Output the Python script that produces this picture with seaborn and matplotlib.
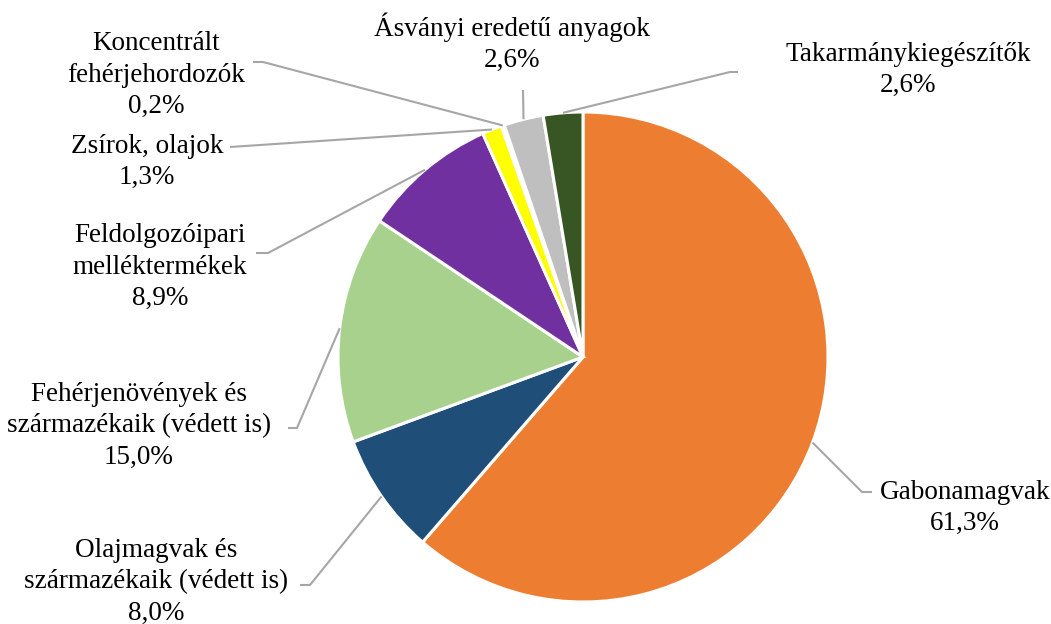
import numpy as np
import matplotlib.pyplot as plt
import seaborn as sns

# adatok (óramutató járásával egyezően, 12 órától)
categories = [
    "Gabonamagvak",
    "Olajmagvak és\nszármazékaik (védett is)",
    "Fehérjenövények és\nszármazékaik (védett is)",
    "Feldolgozóipari\nmelléktermékek",
    "Zsírok, olajok",
    "Koncentrált\nfehérjehordozók",
    "Ásványi eredetű anyagok",
    "Takarmánykiegészítők",
]
values = [61.3, 8.0, 15.0, 8.9, 1.3, 0.2, 2.6, 2.6]
colors = ["#ED7D31", "#1F4E79", "#A9D18E", "#7030A0",
          "#FFFF00", "#4472C4", "#BFBFBF", "#375623"]

W, H = 1051, 624
CX, CY, R = 583, H - 357, 245

# címkék helye (pixel, felülről mérve) és a vezetővonal töréspontja
label_pos = [(965, 508), (156, 582), (139, 426), (160, 267),
             (147, 162), (156, 75), (512, 43), (908, 70)]
elbows = [[(862, 492), (872, 492)],
          [(310, 585), (300, 585)],
          [(297, 428), (288, 428)],
          [(268, 253), (256, 253)],
          [(230, 147)],
          [(263, 62), (253, 62)],
          [(523, 90)],
          [(730, 72), (738, 72)]]

sns.set_theme(style="white")
plt.rcParams['font.family'] = ['Liberation Serif', 'DejaVu Serif']

fig = plt.figure(figsize=(W / 100, H / 100), dpi=100)
ax = fig.add_axes([0, 0, 1, 1])

wedges, _ = ax.pie(values, colors=sns.color_palette(colors), startangle=90,
                   counterclock=False, center=(CX, CY), radius=R, frame=False,
                   wedgeprops=dict(edgecolor="white", linewidth=2.2))
ax.set_xlim(0, W)
ax.set_ylim(0, H)
ax.set_aspect("equal")
ax.axis("off")

for w, name, val, (tx, ty), pts in zip(wedges, categories, values, label_pos, elbows):
    ang = np.deg2rad((w.theta1 + w.theta2) / 2)
    xs = [CX + R * np.cos(ang)] + [p[0] for p in pts]
    ys = [CY + R * np.sin(ang)] + [H - p[1] for p in pts]
    ax.plot(xs, ys, color="#A6A6A6", lw=1.5, solid_capstyle="butt")
    txt = f"{name}\n{val:.1f}%".replace(".", ",")
    ax.text(tx, H - ty, txt, ha="center", va="center", multialignment="center",
            fontsize=19.5, linespacing=1.32, color="black")

fig.savefig("out.png", dpi=100)
